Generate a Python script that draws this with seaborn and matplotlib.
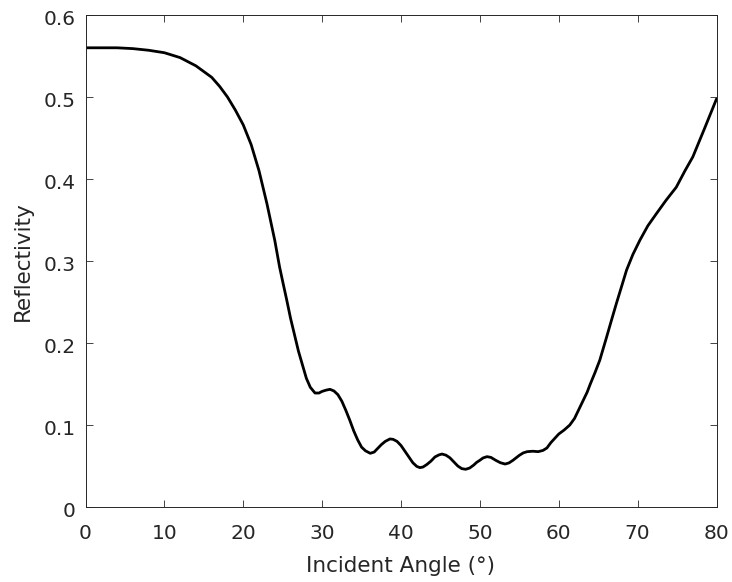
import matplotlib
matplotlib.use("Agg")
import matplotlib.pyplot as plt
import matplotlib.transforms as mtransforms
import seaborn as sns
import pandas as pd

angle = [0, 2, 4, 6, 8, 10, 12, 14, 16, 17, 18, 19, 20, 21, 22, 23, 24, 24.6, 25, 25.5,
         26, 27, 28, 28.5, 29.1, 29.6, 30, 30.5, 31, 31.5, 32, 32.5, 33, 33.5, 34,
         34.5, 35, 35.5, 36.1, 36.6, 37, 37.5, 38, 38.6, 39, 39.5, 40, 40.5, 41, 41.5,
         42, 42.4, 42.8, 43.3, 43.8, 44.3, 44.8, 45.2, 45.7, 46.2, 46.7, 47.2, 47.7,
         48.2, 48.7, 49.2, 49.6, 50, 50.4, 50.9, 51.4, 52, 52.6, 53.2, 53.7, 54.2,
         54.6, 55, 55.5, 56, 56.7, 57.4, 58, 58.5, 59, 60, 60.7, 61.4, 62, 62.5, 63.1,
         63.6, 64, 64.6, 65.2, 65.6, 66, 66.6, 67.3, 68, 68.6, 69.4, 70.3, 71.3, 72.4,
         73.6, 74.9, 76, 77, 78.5, 80]
reflectivity = [0.560, 0.560, 0.560, 0.559, 0.557, 0.554, 0.548, 0.538, 0.524, 0.513,
                0.500, 0.484, 0.466, 0.442, 0.410, 0.370, 0.325, 0.293, 0.275, 0.253,
                0.230, 0.190, 0.157, 0.146, 0.139, 0.139, 0.141, 0.1425, 0.1435, 0.1415,
                0.137, 0.129, 0.118, 0.106, 0.093, 0.082, 0.073, 0.0685, 0.0655, 0.067,
                0.071, 0.076, 0.080, 0.083, 0.0825, 0.080, 0.075, 0.068, 0.061, 0.054,
                0.0495, 0.048, 0.0488, 0.052, 0.056, 0.061, 0.0635, 0.0646, 0.0632, 0.060,
                0.055, 0.050, 0.0468, 0.046, 0.0475, 0.051, 0.0545, 0.057, 0.0598, 0.0614,
                0.0605, 0.057, 0.054, 0.0524, 0.0538, 0.057, 0.060, 0.063, 0.066, 0.0675,
                0.068, 0.0675, 0.069, 0.072, 0.0785, 0.089, 0.094, 0.100, 0.108, 0.118,
                0.130, 0.140, 0.150, 0.164, 0.179, 0.192, 0.205, 0.225, 0.248, 0.270,
                0.289, 0.308, 0.3256, 0.343, 0.358, 0.374, 0.390, 0.410, 0.427, 0.462,
                0.4976]

xticks = [0, 10, 20, 30, 40, 50, 60, 70, 80]
yticks = [0, 0.1, 0.2, 0.3, 0.4, 0.5, 0.6]
ytick_labels = ["0", "0.1", "0.2", "0.3", "0.4", "0.5", "0.6"]

sns.set_style("white")
plt.rcParams['font.family'] = ['DejaVu Sans']

df = pd.DataFrame({"angle": angle, "refl": reflectivity})

fig = plt.figure(figsize=(7.32, 5.82), dpi=100)
ax = fig.add_axes([85.5 / 732, 1 - 507 / 582, 631 / 732, 492 / 582])
sns.lineplot(data=df, x="angle", y="refl", sort=False, color="black", linewidth=2.0, ax=ax)

ax.set_xlim(0, 80)
ax.set_ylim(0, 0.6)
ax.set_xticks(xticks)
ax.set_xticklabels([str(t) for t in xticks])
ax.set_yticks(yticks)
ax.set_yticklabels(ytick_labels)
ax.tick_params(direction="in", length=5, width=0.6, color="#262626", labelsize=14.5,
               labelcolor="#262626", top=True, right=True, bottom=True, left=True)
ax.tick_params(axis="x", pad=12.5)
ax.tick_params(axis="y", pad=7)
# nudge y tick labels slightly down, as in the reference
off = mtransforms.ScaledTranslation(0, -2.5 / 100, fig.dpi_scale_trans)
for lab in ax.get_yticklabels():
    lab.set_transform(lab.get_transform() + off)
for s in ax.spines.values():
    s.set_visible(True)
    s.set_color("#262626")
    s.set_linewidth(0.7)
ax.set_xlabel("Incident Angle (°)", fontsize=15.5, color="#262626", labelpad=9)
ax.set_ylabel("Reflectivity", fontsize=15.5, color="#262626", labelpad=8)

fig.savefig("out.png", dpi=100)
